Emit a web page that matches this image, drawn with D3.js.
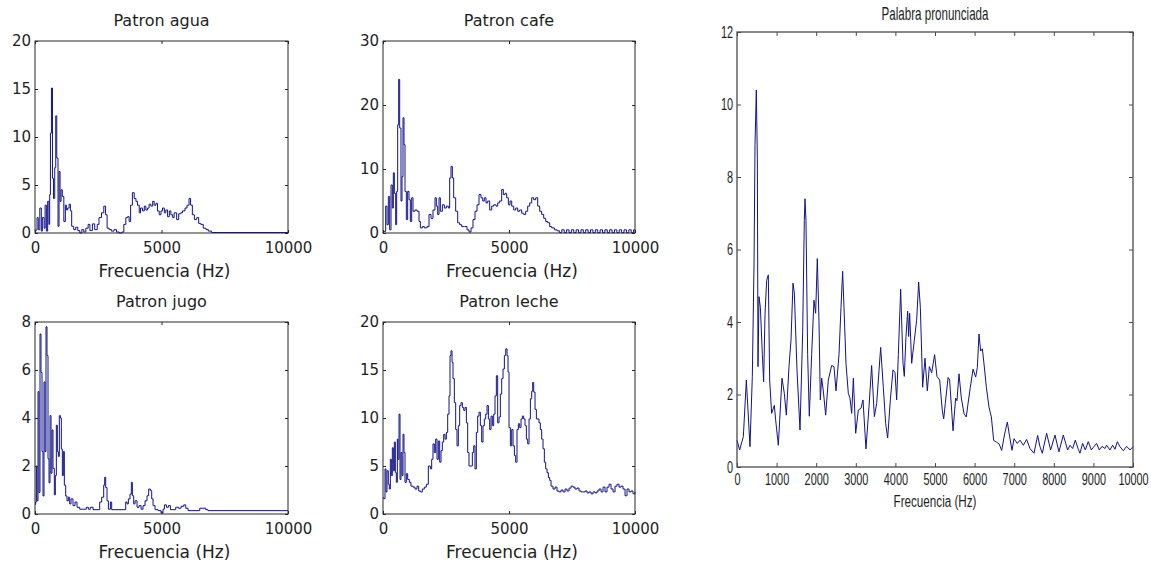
<!DOCTYPE html>
<html>
<head>
<meta charset="utf-8">
<script src="https://cdn.jsdelivr.net/npm/d3@7"></script>
<style>
  body { margin: 0; background: #fff; }
  svg { display: block; }
</style>
</head>
<body>
<svg id="chart" width="1151" height="565"></svg>
<script>
// frequency ticks
var freqTicksSmall = [0, 5000, 10000];
var freqTicksBig = [0, 1000, 2000, 3000, 4000, 5000, 6000, 7000, 8000, 9000, 10000];

// y ticks of every panel
var aguaTicks = [0, 5, 10, 15, 20];
var cafeTicks = [0, 10, 20, 30];
var jugoTicks = [0, 2, 4, 6, 8];
var lecheTicks = [0, 5, 10, 15, 20];
var palabraTicks = [0, 2, 4, 6, 8, 10, 12];

// spectra: [frecuencia (Hz), amplitud]
var aguaData = [[0,0.3],[80,1.6],[130,0.35],[190,2.6],[250,0.2],[290,1.6],[360,0.5],[400,2.9],[450,0.2],[500,3.3],
  [550,0.9],[580,4.0],[610,10.4],[650,15.1],[690,5.7],[730,3.6],[780,6.8],[820,12.2],[860,7.8],[910,0.7],
  [950,6.4],[990,3.3],[1030,4.5],[1080,3.8],[1140,1.2],[1200,2.9],[1240,2.4],[1290,2.6],[1350,3.0],[1400,2.3],
  [1450,0.7],[1530,0.35],[1610,0.6],[1690,0.25],[1770,0],[1850,0.35],[1930,0.1],[2010,0.5],[2100,0.9],[2170,0.25],
  [2270,0.95],[2360,0.35],[2460,0.9],[2530,1.6],[2630,2.1],[2720,2.8],[2790,1.9],[2850,0.5],[2930,0.35],[3020,0.2],
  [3120,0.35],[3220,0.1],[3330,0],[3430,0.1],[3510,0.9],[3590,1.6],[3660,1.7],[3720,1.2],[3780,2.9],[3850,4.2],
  [3920,3.6],[3990,3.3],[4050,2.9],[4120,2.1],[4170,2.6],[4250,2.3],[4320,2.8],[4380,2.4],[4450,2.6],[4510,3.0],
  [4580,2.8],[4650,3.3],[4710,2.9],[4780,3.1],[4840,2.3],[4910,1.9],[4980,2.3],[5040,2.6],[5110,2.1],[5170,2.4],
  [5240,1.7],[5310,2.3],[5370,1.9],[5440,1.6],[5500,2.1],[5600,1.4],[5680,2.0],[5760,2.1],[5830,2.3],[5930,2.6],
  [6010,2.9],[6090,3.6],[6150,2.9],[6220,1.9],[6300,1.4],[6390,1.6],[6470,1.0],[6550,0.9],[6650,0.5],[6760,0.35],
  [6850,0.2],[6980,0.05],[10000,0.05]];

var cafeData = [[0,0.3],[26,0.26],[106,4.2],[159,1.3],[212,5.7],[265,0.5],[318,7.5],[370,3.9],[410,9.4],[450,6.2],
  [503,1.3],[542,6.5],[582,16.9],[622,24.0],[662,16.4],[714,5.0],[754,8.8],[794,18.0],[833,13.8],[873,6.5],
  [926,2.1],[979,6.5],[1032,5.2],[1085,1.8],[1138,5.5],[1191,3.4],[1270,3.6],[1349,3.4],[1429,1.8],[1482,0.8],
  [1561,1.0],[1640,0.8],[1746,1.0],[1826,2.9],[1905,2.3],[1984,3.6],[2064,5.5],[2117,4.2],[2170,2.9],[2223,5.5],
  [2276,3.4],[2355,4.4],[2434,3.9],[2514,4.2],[2593,3.9],[2646,8.6],[2699,10.4],[2752,8.6],[2805,5.5],[2884,3.4],
  [2964,1.6],[3043,1.3],[3122,1.0],[3228,1.0],[3334,0.5],[3413,0.15],[3493,0.8],[3572,2.1],[3651,3.4],[3731,4.4],
  [3810,6.0],[3890,5.5],[3956,5.0],[4022,5.5],[4088,4.7],[4154,5.0],[4234,3.6],[4313,4.2],[4392,4.4],[4485,4.2],
  [4551,4.7],[4617,5.0],[4710,6.8],[4776,6.0],[4842,6.2],[4908,5.5],[4974,4.4],[5041,5.0],[5107,4.2],[5186,3.6],
  [5266,3.9],[5345,3.4],[5424,3.6],[5504,3.1],[5583,2.9],[5662,3.4],[5742,4.2],[5821,4.7],[5901,5.5],[5980,5.2],
  [6059,5.5],[6139,4.2],[6218,3.4],[6297,2.9],[6377,2.3],[6456,1.8],[6536,1.6],[6615,1.0],[6694,0.8],[6800,0.5],
  [6906,0.35],[7000,0.05],[7095,0.5],[7190,0.05],[7285,0.5],[7380,0.05],[7475,0.5],[7570,0.05],[7665,0.5],[7760,0.05],
  [7855,0.5],[7950,0.05],[8045,0.5],[8140,0.05],[8235,0.5],[8330,0.05],[8425,0.5],[8520,0.05],[8615,0.5],[8710,0.05],
  [8805,0.5],[8900,0.05],[8995,0.5],[9090,0.05],[9185,0.5],[9280,0.05],[9375,0.5],[9470,0.05],[9565,0.5],[9660,0.05],
  [9755,0.5],[9850,0.05],[9945,0.5],[10000,0.5]];

var jugoData = [[0,0.4],[26,0.5],[53,2.0],[79,0.55],[119,5.1],[158,0.9],[198,7.5],[237,5.9],[277,2.6],[316,0.75],
  [356,5.5],[395,2.6],[435,7.8],[474,6.6],[514,2.3],[554,1.3],[593,4.1],[633,1.7],[672,3.5],[712,1.9],
  [764,0.8],[804,1.6],[844,3.7],[883,2.6],[923,2.4],[962,4.1],[1002,4.0],[1041,2.7],[1081,1.6],[1120,2.6],
  [1160,1.2],[1213,0.75],[1265,0.55],[1318,0.7],[1371,0.42],[1423,0.63],[1503,0.35],[1582,0.5],[1661,0.28],[1766,0.2],
  [2030,0.28],[2109,0.2],[2188,0.28],[2293,0.18],[2557,0.5],[2636,0.7],[2715,1.2],[2755,1.53],[2794,1.1],[2847,0.55],
  [2900,0.2],[2979,0.5],[3031,0.18],[3585,0.5],[3638,0.42],[3690,0.63],[3756,0.83],[3809,1.32],[3848,0.76],[3901,0.42],
  [3954,0.55],[4033,0.28],[4112,0.35],[4191,0.2],[4270,0.35],[4349,0.55],[4428,0.76],[4494,1.04],[4560,0.97],[4613,0.63],
  [4666,0.35],[4745,0.18],[4863,0.14],[4982,0.04],[5061,0.2],[5114,0.38],[5193,0.28],[5272,0.35],[5351,0.18],[5562,0.28],
  [5667,0.24],[5773,0.32],[5878,0.38],[5957,0.24],[6050,0.14],[6511,0.24],[6748,0.18],[6840,0.14],[10000,0.14]];

var lecheData = [[0,1.7],[26,1.6],[79,4.7],[119,2.3],[159,4.5],[212,3.1],[251,2.6],[291,5.7],[331,4.0],[370,6.9],
  [410,4.5],[450,7.5],[490,4.3],[529,3.3],[569,7.8],[595,5.7],[635,10.4],[675,3.6],[714,6.4],[754,4.0],
  [794,8.3],[833,6.4],[873,3.3],[926,4.2],[979,3.6],[1045,3.3],[1111,2.9],[1191,2.8],[1270,2.6],[1349,2.9],
  [1416,2.4],[1482,2.3],[1561,2.6],[1640,2.8],[1720,3.1],[1799,5.0],[1879,4.7],[1932,5.7],[1984,7.3],[2037,6.4],
  [2090,7.8],[2143,5.7],[2196,7.6],[2249,5.4],[2302,6.6],[2355,7.5],[2408,8.3],[2461,7.8],[2514,8.5],[2567,10.4],
  [2620,12.3],[2659,16.5],[2699,17.0],[2739,15.8],[2778,14.1],[2831,11.6],[2884,8.8],[2937,7.1],[2990,9.2],[3043,11.3],
  [3096,11.6],[3149,11.1],[3202,10.8],[3255,11.1],[3308,9.5],[3360,6.4],[3413,5.0],[3493,5.0],[3546,6.4],[3599,7.1],
  [3651,4.7],[3704,8.5],[3757,10.2],[3810,10.6],[3863,9.2],[3916,7.5],[3969,9.2],[4022,9.9],[4075,10.4],[4128,11.3],
  [4181,9.9],[4234,8.8],[4287,10.2],[4339,9.2],[4392,10.4],[4445,12.3],[4498,14.4],[4551,9.5],[4604,10.1],[4657,12.5],
  [4710,14.1],[4763,15.1],[4816,16.5],[4869,17.2],[4922,16.5],[4961,14.8],[5001,9.0],[5054,7.1],[5107,8.8],[5160,7.1],
  [5213,6.1],[5265,5.4],[5318,8.8],[5371,9.4],[5424,9.0],[5477,9.9],[5530,10.2],[5583,9.9],[5636,9.2],[5689,7.8],
  [5742,7.3],[5795,9.9],[5848,12.0],[5901,12.8],[5940,13.7],[5980,12.7],[6033,10.9],[6086,9.9],[6191,9.5],[6244,8.8],
  [6297,7.8],[6350,6.8],[6403,5.4],[6456,4.7],[6509,4.3],[6562,3.8],[6615,3.5],[6668,2.9],[6747,2.6],[6827,2.8],
  [6906,2.4],[6985,2.3],[7065,2.5],[7144,2.3],[7224,2.6],[7303,2.4],[7382,2.7],[7462,2.9],[7541,2.8],[7620,2.6],
  [7700,2.7],[7779,2.4],[7859,2.3],[7938,2.3],[8017,2.4],[8097,2.2],[8176,2.3],[8255,2.1],[8335,2.3],[8414,2.2],
  [8494,2.4],[8573,2.6],[8652,2.3],[8732,2.8],[8811,2.3],[8890,2.8],[8970,3.1],[9049,2.6],[9129,2.3],[9208,2.9],
  [9287,3.1],[9367,2.8],[9446,2.9],[9525,2.6],[9605,1.9],[9684,2.6],[9763,2.3],[9843,2.4],[9922,2.1],[10000,2.3]];

var palabraData = [[0,0.74],[67,0.47],[160,0.84],[236,2.4],[328,0.56],[387,2.5],[430,5.6],[455,8.9],[488,10.4],[514,8.5],
  [530,2.77],[555,4.7],[590,4.4],[640,3.1],[673,2.35],[707,4.2],[749,5.15],[791,5.3],[825,2.4],[875,1.48],
  [943,1.7],[976,1.3],[1044,0.6],[1136,2.45],[1195,2.03],[1246,1.43],[1313,2.77],[1364,3.5],[1414,5.07],[1448,4.8],
  [1515,2.68],[1591,1.02],[1658,3.7],[1700,6.8],[1717,7.4],[1742,6.8],[1784,3.1],[1826,1.4],[1885,3.1],[1944,4.6],
  [1986,4.24],[2028,5.75],[2070,4.05],[2104,1.85],[2138,2.45],[2180,2.1],[2239,1.43],[2306,2.4],[2390,2.8],[2449,2.77],
  [2500,2.1],[2576,3.1],[2626,4.4],[2668,5.4],[2702,4.4],[2752,2.86],[2811,2.03],[2853,1.9],[2896,1.48],[2938,2.45],
  [2997,0.93],[3064,1.57],[3131,1.62],[3182,1.85],[3257,0.5],[3333,1.66],[3400,2.8],[3468,1.39],[3527,1.75],[3628,3.3],
  [3695,2.2],[3754,1.2],[3805,0.8],[3872,1.85],[3939,2.68],[3990,2.6],[4032,1.85],[4074,3.1],[4133,4.9],[4192,2.86],
  [4225,2.5],[4267,3.6],[4310,4.3],[4335,3.6],[4360,4.24],[4411,2.86],[4478,3.5],[4537,4.05],[4587,5.1],[4630,4.4],
  [4688,2.2],[4747,3.0],[4806,2.1],[4857,2.77],[4916,2.6],[4990,3.1],[5050,2.5],[5118,2.4],[5185,1.55],[5220,1.33],
  [5260,1.75],[5330,2.47],[5370,2.4],[5455,1.0],[5522,1.9],[5555,1.83],[5606,2.57],[5665,1.9],[5733,1.47],[5790,1.38],
  [5833,1.74],[5892,2.2],[5960,2.7],[6027,2.48],[6070,2.75],[6111,3.67],[6153,3.2],[6196,3.26],[6238,2.84],[6297,2.2],
  [6364,1.65],[6423,1.38],[6482,0.73],[6549,0.69],[6617,0.64],[6684,0.46],[6760,0.92],[6827,1.24],[6886,0.83],[6945,0.46],
  [6995,0.78],[7078,0.65],[7148,0.74],[7230,0.6],[7314,0.76],[7398,0.51],[7500,0.38],[7592,0.87],[7651,0.56],[7710,0.38],
  [7819,0.93],[7920,0.47],[8030,0.88],[8130,0.42],[8240,0.88],[8350,0.47],[8408,0.6],[8475,0.51],[8543,0.74],[8619,0.49],
  [8660,0.38],[8728,0.65],[8795,0.47],[8871,0.7],[8947,0.47],[8997,0.54],[9081,0.65],[9149,0.47],[9216,0.57],[9292,0.51],
  [9334,0.6],[9418,0.47],[9486,0.6],[9545,0.49],[9604,0.7],[9671,0.56],[9755,0.45],[9839,0.57],[9923,0.47],[10000,0.56]];

var svg = d3.select("#chart");
var lineColor = "#12128c";

// small matlab-like panel
function panel(box, data, yTicks, title, opt) {
    var x = d3.scaleLinear().domain([0, 10000]).range([box.x0, box.x1]);
    var y = d3.scaleLinear().domain([0, yTicks[yTicks.length - 1]]).range([box.y1, box.y0]);
    var g = svg.append("g");

    g.append("path")
        .datum(data)
        .attr("fill", "none")
        .attr("stroke", lineColor)
        .attr("stroke-width", 1)
        .attr("d", d3.line()
            .x(function (d) { return x(d[0]); })
            .y(function (d) { return y(d[1]); })
            .curve(opt.curve));

    var tk = opt.tick;
    var bottom = g.append("g").attr("class", "xax").attr("transform", "translate(0," + box.y1 + ")")
        .call(d3.axisBottom(x).tickValues(opt.xTicks).tickSize(-tk).tickPadding(opt.xPad).tickFormat(d3.format("d")));
    var left = g.append("g").attr("class", "yax").attr("transform", "translate(" + box.x0 + ",0)")
        .call(d3.axisLeft(y).tickValues(yTicks).tickSize(-tk).tickPadding(4));
    g.append("g").attr("transform", "translate(0," + box.y0 + ")")
        .call(d3.axisTop(x).tickValues(opt.xTicks).tickSize(-tk).tickFormat(""));
    g.append("g").attr("transform", "translate(" + box.x1 + ",0)")
        .call(d3.axisRight(y).tickValues(yTicks).tickSize(-tk).tickFormat(""));

    g.selectAll(".domain").remove();
    g.selectAll(".tick line").attr("stroke", opt.boxColor);
    g.selectAll(".tick text").attr("fill", "#1e1e1e")
        .style("font-family", opt.font).style("font-size", opt.tickSize + "px");

    g.append("rect")
        .attr("x", box.x0).attr("y", box.y0)
        .attr("width", box.x1 - box.x0).attr("height", box.y1 - box.y0)
        .attr("fill", "none").attr("stroke", opt.boxColor).attr("stroke-width", opt.boxWidth);

    var cx = (box.x0 + box.x1) / 2;
    var t = g.append("text")
        .attr("x", cx).attr("y", box.y0 - opt.titleOff)
        .attr("text-anchor", "middle").attr("fill", "#1e1e1e")
        .style("font-family", opt.font).style("font-size", opt.titleSize + "px")
        .text(title);
    var xl = g.append("text")
        .attr("x", cx + opt.labelShift).attr("y", box.y1 + opt.labelOff)
        .attr("text-anchor", "middle").attr("fill", "#1e1e1e")
        .style("font-family", opt.font).style("font-size", opt.labelSize + "px")
        .text("Frecuencia (Hz)");

    // narrow lettering of the big panel
    if (opt.squeeze) {
        t.attr("textLength", opt.titleLen).attr("lengthAdjust", "spacingAndGlyphs");
        xl.attr("textLength", opt.labelLen).attr("lengthAdjust", "spacingAndGlyphs");
        var sx = opt.squeeze;
        g.selectAll(".tick text").each(function () {
            var s = d3.select(this);
            var x0 = +s.attr("x") || 0;
            s.attr("x", x0 / sx).attr("transform", "scale(" + sx + ",1)");
        });
    }
}

var small = {
    curve: d3.curveStepAfter, xTicks: freqTicksSmall, tick: 3, xPad: 9,
    boxColor: "#262626", boxWidth: 1, font: "DejaVu Sans",
    tickSize: 15, titleSize: 16, titleOff: 15, labelSize: 17, labelOff: 44, labelShift: 3
};

panel({ x0: 35, x1: 288, y0: 41, y1: 233 }, aguaData, aguaTicks, "Patron agua", small);
panel({ x0: 383, x1: 635, y0: 41, y1: 233 }, cafeData, cafeTicks, "Patron cafe", small);
panel({ x0: 35, x1: 288, y0: 322, y1: 514 }, jugoData, jugoTicks, "Patron jugo", small);
panel({ x0: 383, x1: 635, y0: 322, y1: 514 }, lecheData, lecheTicks, "Patron leche", small);

panel({ x0: 737, x1: 1133, y0: 32, y1: 467 }, palabraData, palabraTicks, "Palabra pronunciada", {
    curve: d3.curveLinear, xTicks: freqTicksBig, tick: 4, xPad: 6,
    boxColor: "#4a4a4a", boxWidth: 1.3, font: "Liberation Sans",
    tickSize: 17, titleSize: 19, titleOff: 12, labelSize: 16, labelOff: 40, labelShift: 0,
    squeeze: 0.64, titleLen: 107, labelLen: 83
});
</script>
</body>
</html>
